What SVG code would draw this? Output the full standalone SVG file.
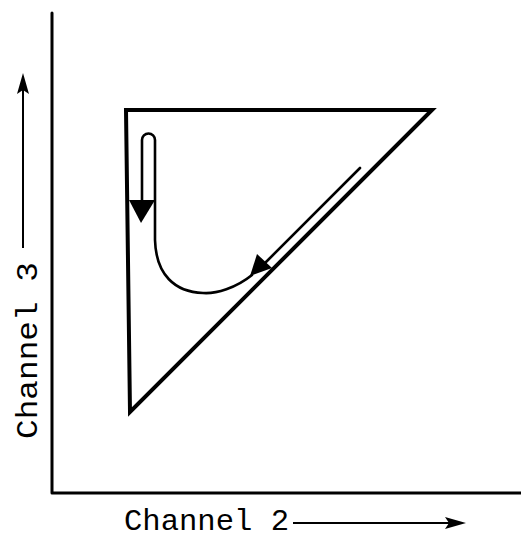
<svg xmlns="http://www.w3.org/2000/svg" width="521" height="539" viewBox="0 0 521 539">
<style>
.ax{fill:none;stroke:#000;stroke-width:3;stroke-linecap:round;stroke-linejoin:round}
.tri{fill:none;stroke:#000;stroke-width:4;stroke-linejoin:miter}
.trace{fill:none;stroke:#000;stroke-width:2.6;stroke-linecap:round;stroke-linejoin:round}
.lbl{font-family:"Liberation Mono","DejaVu Sans Mono",monospace;font-size:29px;fill:#000}
.thin{fill:none;stroke:#000;stroke-width:2}
</style>
<defs>
<marker id="ah" viewBox="0 0 10 10" refX="10" refY="5" markerWidth="10" markerHeight="8" markerUnits="userSpaceOnUse" orient="auto">
<path d="M0,0 L10,5 L0,10 L3,5 Z" fill="#000"/>
</marker>
</defs>
<rect width="521" height="539" fill="#fff"/>
<g id="axes">
<path class="ax" d="M52 13 L52 493 L521 493"/>
</g>
<g id="triangle">
<path class="tri" d="M126 110 L432 110 L130 412 Z"/>
</g>
<g id="connectors">
<path class="trace" d="M360 168 L264 264"/>
<polygon points="250,276 257,254 272,268" fill="#000"/>
<path class="trace" d="M252 275 C236 288 216 294 203 293 C175 292 156 275 155 240 L155 140 A6.5 6.5 0 0 0 142 140 L142 205"/>
<polygon points="129,200 155,200 141,223" fill="#000"/>
<path class="thin" d="M23 248 L23 90" />
<path d="M23 73 L29 94 L23 90 L17 94 Z" fill="#000"/>
<path class="thin" d="M293 523 L450 523"/>
<path d="M466 523 L445 529 L449 523 L445 517 Z" fill="#000"/>
</g>
<g id="label-ch2">
<text class="lbl" x="124" y="530" textLength="165" lengthAdjust="spacingAndGlyphs">Channel 2</text>
</g>
<g id="label-ch3">
<text class="lbl" transform="translate(37 439) rotate(-90)" x="0" y="0" textLength="177" lengthAdjust="spacingAndGlyphs">Channel 3</text>
</g>
</svg>
